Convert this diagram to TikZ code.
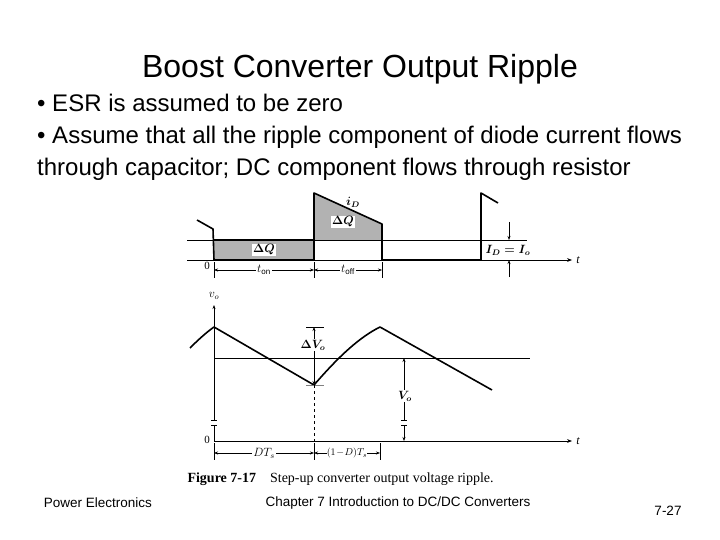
\documentclass[tikz,border=0pt]{standalone}
\usepackage{fontspec}
\setmainfont{Liberation Sans}
\newfontfamily\serifx{Liberation Serif}
\usetikzlibrary{arrows.meta}
\begin{document}
\begin{tikzpicture}[x=1pt,y=-1pt,
  wave/.style={line width=1.6pt,line join=round},
  thin/.style={line width=0.6pt},
  dim/.style={line width=0.5pt,{Stealth[length=4pt]}-{Stealth[length=4pt]}},
  lab/.style={font=\serifx\fontsize{12}{14}\selectfont\itshape,inner sep=1pt},
  blab/.style={font=\serifx\fontsize{12}{14}\selectfont\bfseries\boldmath,inner sep=1pt},
  whitelab/.style={blab,fill=white},
  txt/.style={anchor=west,font=\fontsize{24}{28}\selectfont,inner sep=0pt},
  foot/.style={font=\fontsize{13.5}{16}\selectfont}]
\useasboundingbox (0,0) rectangle (720,540);
\node[font=\fontsize{32}{36}\selectfont] (title) at (360,69) {Boost Converter Output Ripple};
\node[txt] (b1) at (37,103) {• ESR is assumed to be zero};
\node[txt] (b2) at (37,137) {• Assume that all the ripple component of diode current flows};
\node[txt] (b3) at (37,169) {through capacitor; DC component flows through resistor};
\node[foot] (f1) at (98,503) {Power Electronics};
\node[foot] (f2) at (398,503) {Chapter 7 Introduction to DC/DC Converters};
\node[foot] (f3) at (668,511) {7-27};
% ---- top plot
\fill[gray!60] (214,240) rectangle (314,260);
\fill[gray!60] (314,240) -- (314,193) -- (382,224) -- (382,240) -- cycle;
\draw[thin] (187,240) -- (527,240);
\draw[thin,-{Stealth[length=5pt]}] (187,260) -- (572,260);
\node[lab] (t1) at (578,260) {t};
\draw[wave] (197,220) -- (213,229) -- (214,260) -- (314,260);
\draw[wave] (214,240) -- (314,240);
\draw[wave] (314,260) -- (314,193) -- (382,224) -- (382,260) -- (481,260) -- (481,193) -- (498,203);
\node[whitelab] (dq1) at (264,250) {$\Delta Q$};
\node[whitelab] (dq2) at (343,222) {$\Delta Q$};
\node[blab] (iD) at (353,202) {$i_D$};
\node[blab] (IDIo) at (508,250) {$I_D = I_o$};
\coordinate (a1) at (509,222); \coordinate (a2) at (509,240);
\coordinate (a3) at (509,277); \coordinate (a4) at (509,260);
\draw[thin,-{Stealth[length=4pt]}] (a1) -- (a2);
\draw[thin,-{Stealth[length=4pt]}] (a3) -- (a4);
\node[lab,font=\serifx\fontsize{11}{13}\selectfont] (z1) at (207,266) {0};
\foreach \x in {214,314,382} \draw[thin] (\x,262) -- (\x,278);
\draw[dim] (214,270) -- node[fill=white,lab]{$t_{\rm on}$} (314,270);
\draw[dim] (314,270) -- node[fill=white,lab]{$t_{\rm off}$} (382,270);
% ---- bottom plot
\draw[thin,-{Stealth[length=4pt]}] (214,420) -- (214,305);
\draw[line width=1pt] (214,425) -- (214,441);
\draw[thin] (211,420) -- (217,420); \draw[thin] (211,425) -- (217,425);
\node[lab] (vo) at (214,296) {$v_o$};
\node[lab,font=\serifx\fontsize{11}{13}\selectfont] (z2) at (207,440) {0};
\draw[thin,-{Stealth[length=5pt]}] (214,441) -- (572,441);
\node[lab] (t2) at (578,441) {t};
\draw[thin] (214,358) -- (530,358);
\draw[wave] (190,348) .. controls (200,338) and (207,332) .. (214,327) -- (314,385)
  .. controls (340,355) and (360,337) .. (380,327) -- (492,390);
\draw[line width=1pt] (306,327) -- (324,327);
\draw[thin,gray] (306,385) -- (324,385);
\draw[line width=1pt,{Stealth[length=4pt]}-{Stealth[length=4pt]}] (314,327) -- (314,385);
\node[whitelab] (dv) at (313,345) {$\Delta V_o$};
\draw[thin,dashed] (314,385) -- (314,441);
\draw[line width=0.9pt,-{Stealth[length=4pt]}] (404,420) -- (404,358);
\draw[line width=0.9pt,-{Stealth[length=4pt]}] (404,425) -- (404,441);
\draw[thin] (401,420) -- (407,420); \draw[thin] (401,425) -- (407,425);
\node[whitelab] (Vo) at (405,396) {$V_o$};
\foreach \x in {214,314,380} \draw[line width=0.9pt] (\x,443) -- (\x,460);
\draw[dim] (214,453) -- node[fill=white,lab]{$DT_s$} (314,453);
\draw[dim] (314,453) -- node[fill=white,lab,inner sep=0pt,font=\serifx\fontsize{10}{12}\selectfont\itshape]{$(1\!-\!D)T_s$} (380,453);
\node[anchor=west,font=\serifx\fontsize{14}{16}\selectfont] (cap) at (184,479) {\textbf{Figure 7-17}\quad Step-up converter output voltage ripple.};
\end{tikzpicture}
\end{document}
